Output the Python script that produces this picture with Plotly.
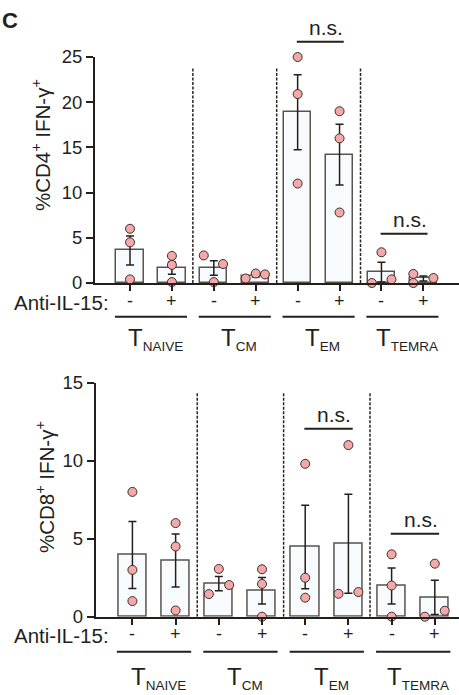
import plotly.graph_objects as go

# ---------------- data ----------------
groups = ["NAIVE", "CM", "EM", "TEMRA"]
treatment = ["-", "+", "-", "+", "-", "+", "-", "+"]

cd4_mean = [3.6, 1.65, 1.65, 0.8, 18.9, 14.2, 1.2, 0.5]
cd4_sem = [1.6, 0.67, 0.8, 0.15, 4.15, 3.35, 1.1, 0.27]
cd4_points = [
    [6.0, 4.5, 0.4],
    [3.0, 2.0, 0.1],
    [3.05, 2.1, 0.1],
    [0.5, 1.05, 0.95],
    [25.0, 20.9, 11.0],
    [19.0, 16.0, 7.8],
    [3.4, 0.0, 0.4],
    [1.0, 0.0, 0.55],
]
cd4_jitter = [
    [0, 0, 0], [0, 0, 0], [-0.24, 0.22, 0], [-0.24, 0, 0.22],
    [0, 0, 0], [0, 0, 0], [0, -0.23, 0.24], [-0.24, -0.24, 0.24],
]

cd8_mean = [3.95, 3.6, 2.12, 1.67, 4.47, 4.68, 1.97, 1.24]
cd8_sem = [2.15, 1.7, 0.46, 0.85, 2.68, 3.17, 1.15, 1.1]
cd8_points = [
    [8.0, 3.0, 1.0],
    [6.0, 4.5, 0.4],
    [3.06, 2.03, 1.45],
    [3.04, 2.1, 0.0],
    [9.8, 2.5, 1.22],
    [11.0, 1.47, 1.58],
    [4.0, 2.0, 0.0],
    [3.4, 0.0, 0.38],
]
cd8_jitter = [
    [0, 0, 0], [0, 0, 0], [0, 0.24, -0.23], [0, 0, 0],
    [0, 0, 0], [0, -0.23, 0.23], [0, 0, 0], [0, -0.23, 0.23],
]

cd4_ticks = [0, 5, 10, 15, 20, 25]
cd8_ticks = [0, 5, 10, 15]

# significance brackets: (first bar, second bar, y in data units)
cd4_brackets = [(4, 5, 26.7), (6, 7, 5.45)]
cd8_brackets = [(4, 5, 12.05), (6, 7, 5.32)]

# ---------------- styling ----------------
W, H = 459, 695
FONT = "Liberation Sans, Arial, sans-serif"
INK = "#231f1c"
BAR_FILL = "#f8fbfe"
BAR_LINE = "#5a524c"
DOT = "#f4a8a8"

panels = [
    dict(mean=cd4_mean, sem=cd4_sem, pts=cd4_points, jit=cd4_jitter, ticks=cd4_ticks,
         yr=[0, 25], ydom=[1 - 283 / H, 1 - 57 / H], xdom=[95 / W, 1], xr=[-0.835, 7.85],
         sep_top=23.9, brackets=cd4_brackets,
         title="%CD4<sup>+</sup> IFN-γ<sup>+</sup>", title_xy=(41, 145),
         sign_y=301, line_y=316.7, lab_y=339),
    dict(mean=cd8_mean, sem=cd8_sem, pts=cd8_points, jit=cd8_jitter, ticks=cd8_ticks,
         yr=[0, 15], ydom=[1 - 616.7 / H, 1 - 382.7 / H], xdom=[95.7 / W, 1], xr=[-0.85, 7.56],
         sep_top=14.4, brackets=cd8_brackets,
         title="%CD8<sup>+</sup> IFN-γ<sup>+</sup>", title_xy=(45, 487),
         sign_y=634, line_y=651.7, lab_y=678),
]

fig = go.Figure()
shapes = []
annotations = []
xpos = list(range(len(treatment)))

for i, p in enumerate(panels):
    xa = "x" if i == 0 else "x2"
    ya = "y" if i == 0 else "y2"
    fig.add_trace(go.Bar(
        x=xpos, y=p["mean"], xaxis=xa, yaxis=ya, width=0.65,
        marker=dict(color=BAR_FILL, line=dict(color=BAR_LINE, width=1.5)),
        error_y=dict(type="data", array=p["sem"], visible=True, color=INK,
                     thickness=1.5, width=4),
        showlegend=False, hoverinfo="skip"))
    px, py = [], []
    for k, (vals, jit) in enumerate(zip(p["pts"], p["jit"])):
        for v, j in zip(vals, jit):
            px.append(k + j)
            py.append(v)
    fig.add_trace(go.Scatter(
        x=px, y=py, xaxis=xa, yaxis=ya, mode="markers", cliponaxis=False,
        marker=dict(size=9, color=DOT, line=dict(color="#3b302c", width=1)),
        showlegend=False, hoverinfo="skip"))

    # dashed separators between groups
    for s in [1.5, 3.5, 5.5]:
        shapes.append(dict(type="line", xref=xa, yref=ya, x0=s, x1=s, y0=0, y1=p["sep_top"],
                           line=dict(color="#2a2420", width=1.5, dash="3px,1.5px")))

    def to_paper(v, p=p):
        d0, d1 = p["ydom"]
        r0, r1 = p["yr"]
        return d0 + (v - r0) / (r1 - r0) * (d1 - d0)

    # brackets
    for a, b, yv in p["brackets"]:
        yl = to_paper(yv)
        shapes.append(dict(type="line", xref=xa, yref="paper", x0=a - 0.02, x1=b + 0.1,
                           y0=yl, y1=yl, line=dict(color=INK, width=2)))
        annotations.append(dict(xref=xa, yref="paper", x=(a + b) / 2 + 0.17, y=yl + 14 / H,
                                text="n.s.", showarrow=False, xanchor="center", yanchor="middle",
                                font=dict(size=21, color=INK, family=FONT)))

    # treatment signs
    for k, t in enumerate(treatment):
        annotations.append(dict(xref=xa, yref="paper", x=k, y=1 - p["sign_y"] / H, text=t,
                                showarrow=False, xanchor="center", yanchor="middle",
                                font=dict(size=18, color=INK, family=FONT)))
    annotations.append(dict(xref="paper", yref="paper", x=111 / W, y=1 - (p["sign_y"] + 1) / H,
                            text="Anti-IL-15:", showarrow=False, xanchor="right", yanchor="middle",
                            font=dict(size=20.5, color=INK, family=FONT)))
    # group lines and labels
    for g, name in enumerate(groups):
        c = 2 * g + 0.5
        shapes.append(dict(type="line", xref=xa, yref="paper", x0=c - 0.86, x1=c + 0.86,
                           y0=1 - p["line_y"] / H, y1=1 - p["line_y"] / H,
                           line=dict(color=INK, width=2)))
        annotations.append(dict(xref=xa, yref="paper", x=c + 0.1, y=1 - p["lab_y"] / H,
                                text="T<sub><span style='font-size:13.5px'>" + name
                                     + "</span></sub>",
                                showarrow=False, xanchor="center", yanchor="middle",
                                font=dict(size=24, color=INK, family=FONT)))
    # y title
    tx, ty = p["title_xy"]
    annotations.append(dict(xref="paper", yref="paper", x=tx / W, y=1 - ty / H, text=p["title"],
                            showarrow=False, textangle=-90, xanchor="center", yanchor="middle",
                            font=dict(size=20.5, color=INK, family=FONT)))

annotations.append(dict(xref="paper", yref="paper", x=0, y=1 - 20 / H, text="<b>C</b>",
                        showarrow=False, xanchor="left", yanchor="middle",
                        font=dict(size=22, color=INK, family=FONT)))

axis_common = dict(showline=True, linecolor=INK, linewidth=2, showgrid=False, zeroline=False,
                   ticks="outside", tickcolor=INK, tickwidth=2, automargin=False)

layout = dict(
    template="none",
    width=W, height=H, margin=dict(l=0, r=0, t=0, b=0, pad=0), autosize=False,
    paper_bgcolor="white", plot_bgcolor="white", showlegend=False,
    font=dict(family=FONT, color=INK),
    shapes=shapes, annotations=annotations, bargap=0,
)
for i, p in enumerate(panels):
    sx = "" if i == 0 else "2"
    layout["xaxis" + sx] = dict(axis_common, domain=p["xdom"], range=p["xr"],
                                anchor="y" + sx, tickvals=xpos, showticklabels=False,
                                ticklen=6)
    layout["yaxis" + sx] = dict(axis_common, domain=p["ydom"], range=p["yr"],
                                anchor="x" + sx, tickvals=p["ticks"], ticklen=7,
                                tickfont=dict(size=18.5, color=INK, family=FONT))

fig.update_layout(**layout)
fig.write_html(
    "out.html",
    config={"displayModeBar": False},
    post_script="document.body.style.margin='0px';document.body.style.overflow='hidden';",
)
